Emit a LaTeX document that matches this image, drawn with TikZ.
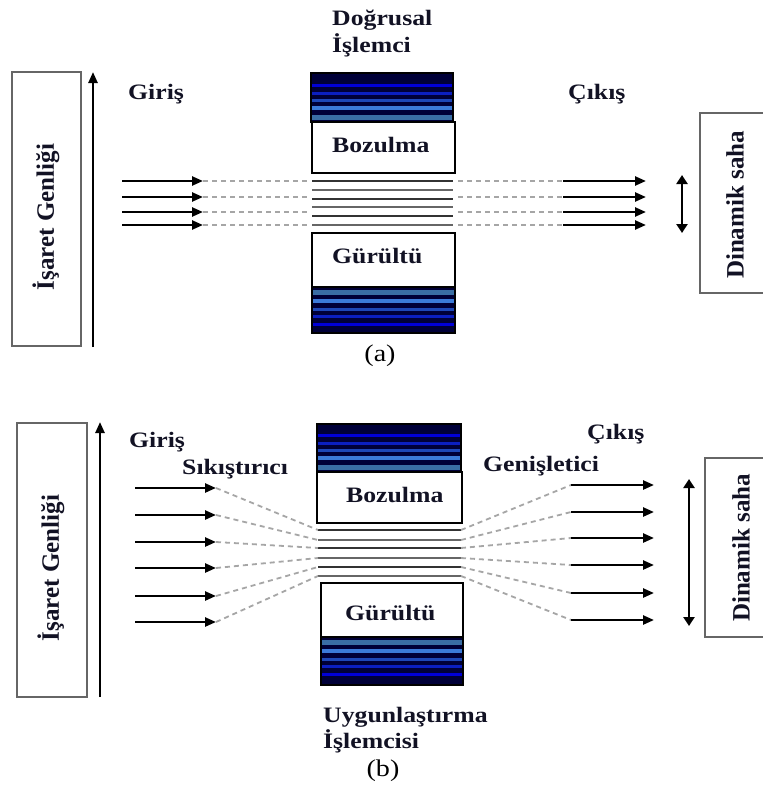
\documentclass[tikz,border=0pt]{standalone}
\usepackage{fontspec}
\setmainfont{Liberation Serif}
\newfontfamily\widefont[FakeStretch=1.17]{Liberation Serif}
\usetikzlibrary{arrows.meta}

\definecolor{ink}{RGB}{18,18,36}
\definecolor{navy}{RGB}{0,0,56}
\definecolor{stA}{RGB}{58,110,165}
\definecolor{stB}{RGB}{59,123,217}
\definecolor{stC}{RGB}{29,72,184}
\definecolor{stD}{RGB}{11,31,192}
\definecolor{stE}{RGB}{0,0,215}

\tikzset{
  lbl/.style={font=\widefont\bfseries\fontsize{22}{26}\selectfont, text=ink, anchor=base west, inner sep=0pt},
  sublabel/.style={font=\widefont\fontsize{24}{28}\selectfont, text=black, inner sep=0pt},
  vlbl/.style={font=\bfseries\fontsize{25}{28}\selectfont, text=ink, rotate=90, inner sep=0pt},
  sideframe/.style={draw=black!60, line width=1.8pt},
  textbox/.style={draw=black, line width=2.8pt, fill=white},
  sig/.style={line width=2.4pt, -{Triangle[length=11pt,width=9pt]}},
  gap/.style={draw=black!35, line width=1.8pt, dash pattern=on 5pt off 4pt},
  chan/.style={line width=2pt},
  spanarrow/.style={line width=2.4pt, {Triangle[length=9pt,width=11pt]}-{Triangle[length=9pt,width=11pt]}},
}

% striped noise/distortion block: x1, outer y, x2, inner y, sign
\newcommand{\stripeblock}[5]{%
  \fill[navy] (#1,#2) rectangle (#3,#4);
  \foreach \d/\w/\c in {5/5/stA, 14/4/stB, 22/3/stC, 29/3/stD, 37/3/stE}{
    \fill[\c] (#1,{#4-#5*\d-#5*\w/2}) rectangle (#3,{#4-#5*\d+#5*\w/2});
  }
  \draw[black, line width=2.8pt] (#1,#2) rectangle (#3,#4);
}

\begin{document}
\begin{tikzpicture}[x=1pt, y=-1pt]
\clip (0,0) rectangle (763,790);
\fill[white] (0,0) rectangle (763,790);

% ================= (a) linear processor =================
\draw[sideframe] (12,72) rectangle (81,346);
\node[vlbl] (ampA) at (46,217) {İşaret Genliği};
\coordinate (axAlo) at (93,347);
\coordinate (axAhi) at (93,72);
\draw[sig] (axAlo) -- (axAhi);

\node[lbl] (girisA) at (128,99) {Giriş};
\node[lbl] (cikisA) at (568,99) {Çıkış};
\node[lbl] (procA1) at (332,25) {Doğrusal};
\node[lbl] (procA2) at (332,52) {İşlemci};

\stripeblock{311}{73}{453}{122}{1}
\draw[textbox] (312,122) rectangle (455,173);
\node[lbl] (bozA) at (332,152) {Bozulma};
\draw[textbox] (312,233) rectangle (455,287);
\stripeblock{312}{333}{455}{287}{-1}
\node[lbl] (gurA) at (332,263) {Gürültü};

% channel lines
\foreach \y [count=\i] in {181,190,199,207,216,225}{
  \coordinate (chAl\i) at (312,\y);
  \coordinate (chAr\i) at (453,\y);
  \pgfmathsetmacro{\g}{mod(\i,2)==1 ? 80 : 60}
  \draw[chan, draw=black!\g] (chAl\i) -- (chAr\i);
}

% input / output signals
\foreach \y [count=\i] in {181,197,212,225}{
  \coordinate (inA\i) at (122,\y);
  \coordinate (tipA\i) at (203,\y);
  \coordinate (gapAl\i) at (310,\y);
  \coordinate (gapAr\i) at (458,\y);
  \coordinate (srcA\i) at (563,\y);
  \coordinate (outA\i) at (646,\y);
  \draw[sig] (inA\i) -- (tipA\i);
  \draw[gap] (tipA\i) -- (gapAl\i);
  \draw[gap] (gapAr\i) -- (srcA\i);
  \draw[sig] (srcA\i) -- (outA\i);
}
\coordinate (rngAt) at (682,175);
\coordinate (rngAb) at (682,233);
\draw[spanarrow] (rngAt) -- (rngAb);

\draw[sideframe] (700,113) rectangle (780,293);
\node[vlbl] (dynA) at (735,205) {Dinamik saha};

\node[sublabel] (capA) at (380,356) {(a)};

% ================= (b) companding processor =================
\draw[sideframe] (17,423) rectangle (87,697);
\node[vlbl] (ampB) at (51,568) {İşaret Genliği};
\coordinate (axBlo) at (100,697);
\coordinate (axBhi) at (100,422);
\draw[sig] (axBlo) -- (axBhi);

\node[lbl] (girisB) at (129,447) {Giriş};
\node[lbl] (compB) at (182,474) {Sıkıştırıcı};
\node[lbl] (cikisB) at (587,439) {Çıkış};
\node[lbl] (expB) at (483,471) {Genişletici};

\stripeblock{317}{424}{461}{472}{1}
\draw[textbox] (317,472) rectangle (462,523);
\node[lbl] (bozB) at (346,502) {Bozulma};
\draw[textbox] (321,583) rectangle (463,637);
\stripeblock{321}{685}{463}{637}{-1}
\node[lbl] (gurB) at (345,620) {Gürültü};

\node[lbl] (procB1) at (323,722) {Uygunlaştırma};
\node[lbl] (procB2) at (323,748) {İşlemcisi};
\node[sublabel] (capB) at (383,771) {(b)};

\foreach \y [count=\i] in {530,540,548,558,567,576}{
  \coordinate (chBl\i) at (318,\y);
  \coordinate (chBr\i) at (461,\y);
  \pgfmathsetmacro{\g}{mod(\i,2)==1 ? 80 : 60}
  \draw[chan, draw=black!\g] (chBl\i) -- (chBr\i);
}

\foreach \yi/\yo [count=\i] in {488/485,515/512,542/538,568/565,596/593,622/620}{
  \coordinate (inB\i) at (135,\yi);
  \coordinate (tipB\i) at (216,\yi);
  \coordinate (srcB\i) at (571,\yo);
  \coordinate (outB\i) at (654,\yo);
  \draw[sig] (inB\i) -- (tipB\i);
  \draw[gap] (tipB\i) -- (chBl\i);
  \draw[gap] (chBr\i) -- (srcB\i);
  \draw[sig] (srcB\i) -- (outB\i);
}
\coordinate (rngBt) at (689,479);
\coordinate (rngBb) at (689,626);
\draw[spanarrow] (rngBt) -- (rngBb);

\draw[sideframe] (705,458) rectangle (780,637);
\node[vlbl] (dynB) at (741,548) {Dinamik saha};
\end{tikzpicture}
\end{document}
